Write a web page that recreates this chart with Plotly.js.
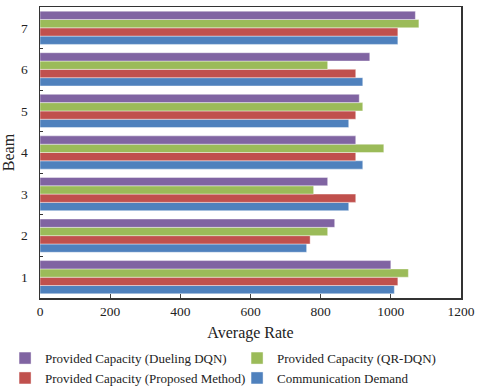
<!DOCTYPE html>
<html>
<head>
<meta charset="utf-8">
<script src="https://cdn.plot.ly/plotly-3.0.1.min.js"></script>
<style>html,body{margin:0;padding:0;background:#fff;}#chart{width:480px;height:391px;}</style>
</head>
<body>
<div id="chart"></div>
<script>
const beams = ['1','2','3','4','5','6','7'];
const demand = [1010, 760, 880, 920, 880, 920, 1020];
const proposed = [1020, 770, 900, 900, 900, 900, 1020];
const qrdqn = [1050, 820, 780, 980, 920, 820, 1080];
const dueling = [1000, 840, 820, 900, 910, 940, 1070];
const xTicks = [0, 200, 400, 600, 800, 1000, 1200];

const font = "'Liberation Serif', 'Times New Roman', serif";
function tr(name, vals, color, rank) {
  return {type:'bar', orientation:'h', y:beams, x:vals, name:name,
    marker:{color:color, line:{color:'rgba(255,255,255,0.7)', width:0.6}},
    legendrank:rank, hoverinfo:'skip'};
}
const data = [
  tr('Communication Demand', demand, '#4F81BD', 4),
  tr('Provided Capacity (Proposed Method)', proposed, '#C0504D', 3),
  tr('Provided Capacity (QR-DQN)', qrdqn, '#9BBB59', 2),
  tr('Provided Capacity (Dueling DQN)', dueling, '#8064A2', 1)
];
const layout = {
  width:480, height:391,
  margin:{l:40, r:19, t:7, b:93, autoexpand:false},
  paper_bgcolor:'#fff', plot_bgcolor:'#fff',
  font:{family:font, size:13.5, color:'#222'},
  barmode:'group', bargap:0.2, bargroupgap:0,
  xaxis:{range:[0,1200], tickvals:xTicks, ticktext:xTicks.map(String),
    showgrid:false, zeroline:false, showline:true, linecolor:'#333', linewidth:1.5, mirror:true,
    ticks:'inside', ticklen:4, tickcolor:'#444',
    tickfont:{family:font, size:13.5},
    title:{text:'Average Rate', font:{family:font, size:16}, standoff:9}},
  yaxis:{type:'category', showgrid:false, zeroline:false, showline:true, linecolor:'#333', linewidth:1.5, mirror:true,
    ticks:'inside', tickson:'boundaries', ticklen:3, tickcolor:'#333',
    ticklabelstandoff:8,
    tickfont:{family:font, size:13.5},
    title:{text:'Beam', font:{family:font, size:16}, standoff:6}},
  showlegend:true,
  legend:{orientation:'h', x:-0.083, xanchor:'left', y:-0.155, yanchor:'top',
    entrywidth:187, entrywidthmode:'pixels', itemwidth:30,
    font:{family:font, size:13}, traceorder:'normal', tracegroupgap:0}
};
Plotly.newPlot('chart', data, layout, {displayModeBar:false, staticPlot:true});
</script>
</body>
</html>
